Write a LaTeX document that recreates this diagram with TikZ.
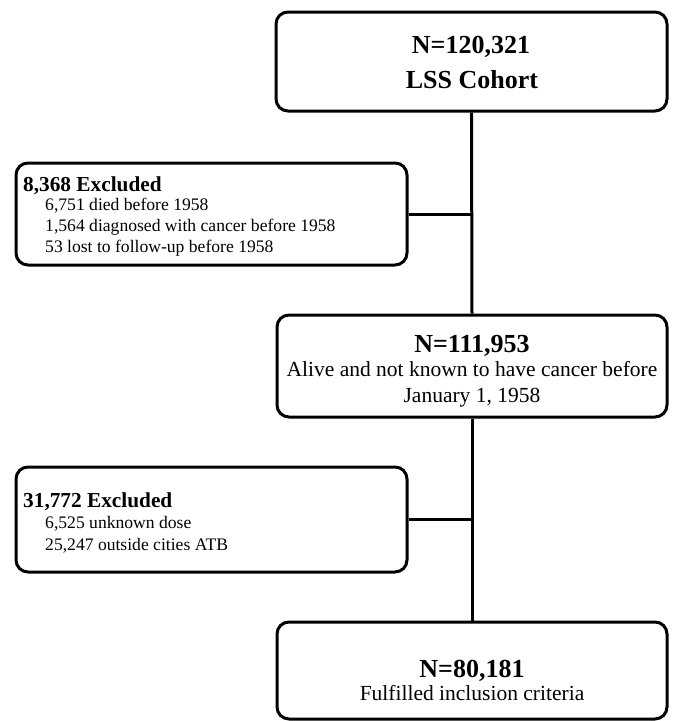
\documentclass[tikz,border=0pt]{standalone}
\usepackage{fontspec}
\setmainfont{Liberation Serif}
\newfontfamily\tnr{Liberation Serif}
\begin{document}
\begin{tikzpicture}[x=1pt,y=-1pt,
  box/.style={draw, line width=3pt, rounded corners=12pt, inner sep=0pt, fill=white},
  conn/.style={line width=3pt},
  bigb/.style={font=\tnr\fontsize{26}{30}\selectfont\bfseries, inner sep=0pt, anchor=base},
  midr/.style={font=\tnr\fontsize{21.5}{25}\selectfont, inner sep=0pt, anchor=base},
  exttl/.style={font=\tnr\fontsize{21.3}{25}\selectfont\bfseries, inner sep=0pt, anchor=base west},
  exsub/.style={font=\tnr\fontsize{17.6}{21}\selectfont, inner sep=0pt, anchor=base west}]
\useasboundingbox (0,0) rectangle (677,721);
\fill[white] (0,0) rectangle (677,721);
% boxes
\node[box, minimum width=391pt, minimum height=99pt] (top) at (471.5,61.5) {};
\node[box, minimum width=391pt, minimum height=102pt] (ex1) at (211.5,214) {};
\node[box, minimum width=390pt, minimum height=102pt] (mid) at (472,366) {};
\node[box, minimum width=391pt, minimum height=105pt] (ex2) at (211.5,519.5) {};
\node[box, minimum width=390pt, minimum height=97pt] (bot) at (472,670.5) {};
% connectors
\draw[conn] (top.south) -- (mid.north);
\draw[conn] (mid.south) -- (bot.north);
\draw[conn] (ex1.east) -- (ex1.east -| mid.north);
\draw[conn] (ex2.east) -- (ex2.east -| mid.north);
% texts top
\node[bigb] (topa) at (471,53) {N=120,321};
\node[bigb] (topb) at (472,88) {LSS Cohort};
% texts ex1
\node[exttl] (ex1a) at (23,191) {8,368 Excluded};
\node[exsub] (ex1b) at (45,210) {6,751 died before 1958};
\node[exsub] (ex1c) at (45,231) {1,564 diagnosed with cancer before 1958};
\node[exsub] (ex1d) at (45,252) {53 lost to follow-up before 1958};
% texts mid
\node[bigb] (mida) at (472,352) {N=111,953};
\node[midr] (midb) at (472,376) {Alive and not known to have cancer before};
\node[midr] (midc) at (472,402) {January 1, 1958};
% texts ex2
\node[exttl] (ex2a) at (23,507) {31,772 Excluded};
\node[exsub] (ex2b) at (45,528) {6,525 unknown dose};
\node[exsub] (ex2c) at (45,550) {25,247 outside cities ATB};
% texts bot
\node[bigb] (bota) at (472,677) {N=80,181};
\node[midr] (botb) at (472,700) {Fulfilled inclusion criteria};
\end{tikzpicture}
\end{document}
